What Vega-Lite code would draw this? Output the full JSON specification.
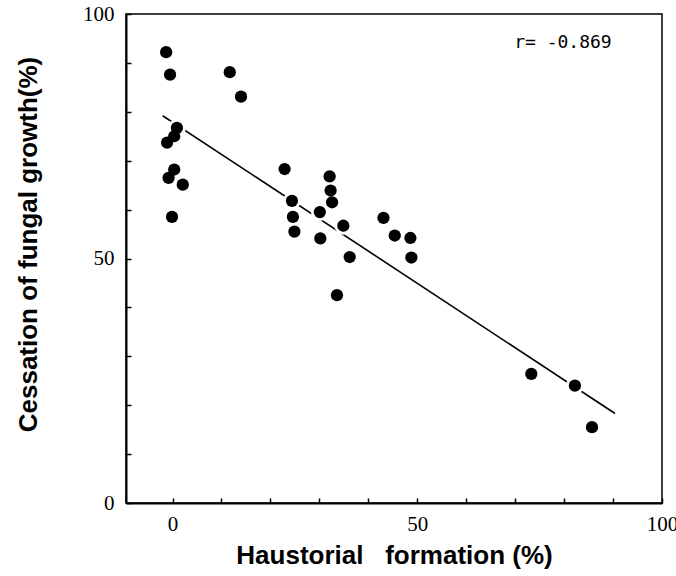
{
  "$schema": "https://vega.github.io/schema/vega-lite/v6.json",
  "width": 536,
  "height": 489,
  "autosize": {"type": "none"},
  "padding": {"left": 126, "top": 14, "right": 14, "bottom": 73},
  "background": "white",
  "config": {
    "view": {"stroke": "black", "strokeWidth": 1.5},
    "axis": {
      "grid": false,
      "domainColor": "black",
      "domainWidth": 2,
      "tickColor": "black",
      "tickWidth": 1.5,
      "tickSize": -5,
      "labelFont": "Liberation Serif",
      "labelFontSize": 21,
      "labelColor": "black",
      "labelOverlap": false,
      "labelFlush": false,
      "titleFont": "Liberation Sans",
      "titleFontWeight": "bold",
      "titleFontSize": 26,
      "titleColor": "black"
    }
  },
  "datasets": {
    "points": [
      {"haustorial": -1.3, "cessation": 92.2},
      {"haustorial": -0.5, "cessation": 87.6},
      {"haustorial": 11.7, "cessation": 88.1},
      {"haustorial": 14.0, "cessation": 83.1},
      {"haustorial": 0.9, "cessation": 76.7},
      {"haustorial": 0.35, "cessation": 75.0},
      {"haustorial": -1.1, "cessation": 73.7},
      {"haustorial": 0.35, "cessation": 68.2},
      {"haustorial": -0.8, "cessation": 66.5},
      {"haustorial": 2.1, "cessation": 65.1},
      {"haustorial": -0.1, "cessation": 58.5},
      {"haustorial": 22.9, "cessation": 68.3},
      {"haustorial": 24.4, "cessation": 61.8},
      {"haustorial": 24.6, "cessation": 58.5},
      {"haustorial": 24.9, "cessation": 55.5},
      {"haustorial": 32.1, "cessation": 66.8},
      {"haustorial": 32.3, "cessation": 63.9},
      {"haustorial": 32.6, "cessation": 61.5},
      {"haustorial": 30.1, "cessation": 59.5},
      {"haustorial": 30.2, "cessation": 54.1},
      {"haustorial": 34.9, "cessation": 56.7},
      {"haustorial": 36.2, "cessation": 50.3},
      {"haustorial": 43.1, "cessation": 58.3},
      {"haustorial": 45.4, "cessation": 54.7},
      {"haustorial": 48.6, "cessation": 54.2},
      {"haustorial": 48.8, "cessation": 50.2},
      {"haustorial": 33.6, "cessation": 42.5},
      {"haustorial": 73.3, "cessation": 26.4},
      {"haustorial": 82.2, "cessation": 24.0},
      {"haustorial": 85.7, "cessation": 15.5}
    ],
    "fit": [
      {"haustorial": -2.0, "cessation": 79.2},
      {"haustorial": 90.4, "cessation": 18.3}
    ],
    "note": [
      {"haustorial": 69.8, "cessation": 94.0, "label": "r= -0.869"}
    ]
  },
  "layer": [
    {
      "data": {"name": "fit"},
      "mark": {"type": "line", "color": "black", "strokeWidth": 1.6},
      "encoding": {
        "x": {
          "field": "haustorial", "type": "quantitative",
          "scale": {"domain": [-9.5, 100], "nice": false, "zero": false},
          "axis": {
            "values": [0, 10, 20, 30, 40, 50, 60, 70, 80, 90, 100],
            "labelExpr": "datum.value % 50 == 0 ? datum.label : ''",
            "labelPadding": 15,
            "title": "Haustorial\u00a0\u00a0\u00a0formation (%)",
            "titleY": 52,
            "titleBaseline": "middle"
          }
        },
        "y": {
          "field": "cessation", "type": "quantitative",
          "scale": {"domain": [0, 100], "nice": false},
          "axis": {
            "values": [0, 10, 20, 30, 40, 50, 60, 70, 80, 90, 100],
            "labelExpr": "datum.value % 50 == 0 ? datum.label : ''",
            "labelPadding": 17,
            "title": "Cessation of fungal growth(%)",
            "titleX": -98,
            "titleY": 230,
            "titleBaseline": "middle"
          }
        }
      }
    },
    {
      "data": {"name": "points"},
      "mark": {"type": "circle", "color": "white", "opacity": 1, "size": 320},
      "encoding": {
        "x": {"field": "haustorial", "type": "quantitative"},
        "y": {"field": "cessation", "type": "quantitative"}
      }
    },
    {
      "data": {"name": "points"},
      "mark": {"type": "circle", "color": "black", "opacity": 1, "size": 150},
      "encoding": {
        "x": {"field": "haustorial", "type": "quantitative"},
        "y": {"field": "cessation", "type": "quantitative"}
      }
    },
    {
      "data": {"name": "note"},
      "mark": {"type": "text", "font": "DejaVu Sans Mono", "fontSize": 18, "align": "left", "baseline": "middle", "color": "black"},
      "encoding": {
        "x": {"field": "haustorial", "type": "quantitative"},
        "y": {"field": "cessation", "type": "quantitative"},
        "text": {"field": "label"}
      }
    }
  ]
}
